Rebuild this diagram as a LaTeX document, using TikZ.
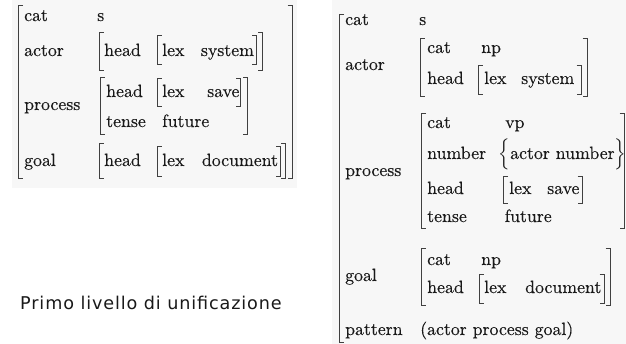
\documentclass[tikz,border=0pt]{standalone}
\usepackage{amsmath}
\usepackage{fontspec}
\newfontfamily\avmfont{lmroman10-regular.otf}[FakeBold=0.3]
\newfontfamily\capfont{DejaVu Sans}[LetterSpace=5]
% brackets: left/right, x, top y, bottom y (y measured downwards)
\newcommand\brL[3]{\draw[brk] (#1+4.5,-#2) -- (#1,-#2) -- (#1,-#3) -- (#1+4.5,-#3);}
\newcommand\brR[3]{\draw[brk] (#1-4.5,-#2) -- (#1,-#2) -- (#1,-#3) -- (#1-4.5,-#3);}
\tikzset{
  avm/.style={font=\avmfont\fontsize{17.8}{20}\selectfont, text=black!90, inner sep=0pt, anchor=base west},
  brk/.style={draw=black!75, line width=0.9pt},
  caption/.style={font=\capfont\fontsize{17.6}{20}\selectfont, text=black!90, inner sep=0pt, anchor=base west},
  tint/.style={fill=black!3, draw=none}
}
\begin{document}
\begin{tikzpicture}[x=1pt,y=1pt]
\useasboundingbox (0,0) rectangle (626,-344);
\fill[white] (0,0) rectangle (626,-344);
\fill[tint] (12,0) rectangle (297,-188);
\fill[tint] (332,0) rectangle (626,-344);

% ---------- first structure ----------
\brL{18.5}{5}{178}
\brR{292}{5}{178}
\node[avm] (a-cat)  at (24,-21)  {cat};
\node[avm] (a-s)    at (97,-21)  {s};
\node[avm] (a-act)  at (24,-56)  {actor};
\brL{99}{32}{70}   \brR{262.5}{32}{70}
\node[avm] (a-acth) at (104,-56) {head};
\brL{157}{35}{64}  \brR{256.5}{35}{64}
\node[avm] (a-actl) at (162,-56) {lex};
\node[avm] (a-actv) at (200.7,-56) {system};
\node[avm] (a-pro)  at (24,-110) {process};
\brL{100}{77}{134} \brR{247.5}{77}{134}
\node[avm] (a-proh) at (106,-97) {head};
\brL{157}{78}{106} \brR{240.5}{78}{106}
\node[avm] (a-prol) at (162,-97) {lex};
\node[avm] (a-prov) at (207,-97) {save};
\node[avm] (a-prot) at (106,-127) {tense};
\node[avm] (a-prof) at (162,-127) {future};
\node[avm] (a-goal) at (24,-166) {goal};
\brL{99}{143}{178} \brR{285.5}{143}{178}
\node[avm] (a-goah) at (104,-166) {head};
\brL{157}{146}{176} \brR{280.5}{146}{176}
\node[avm] (a-goal) at (162,-166) {lex};
\node[avm] (a-goav) at (201.7,-166) {document};

\node[caption] (cap) at (20,-309) {Primo livello di unificazione};

% ---------- second structure ----------
\brL{339.5}{14}{342}
\node[avm] (b-cat)  at (345,-25)  {cat};
\node[avm] (b-s)    at (419,-25)  {s};
\node[avm] (b-act)  at (345,-70)  {actor};
\brL{420}{38}{96}  \brR{587}{38}{96}
\node[avm] (b-actc) at (427,-53)  {cat};
\node[avm] (b-actn) at (481,-53)  {np};
\node[avm] (b-acth) at (427,-84)  {head};
\brL{478}{65}{94}  \brR{581}{65}{94}
\node[avm] (b-actl) at (484,-84)  {lex};
\node[avm] (b-actv) at (521,-84)  {system};
\node[avm] (b-pro)  at (345,-176) {process};
\brL{421.5}{113}{228} \brR{624}{113}{228}
\node[avm] (b-proc) at (427,-128) {cat};
\node[avm] (b-prov) at (505,-128) {vp};
\node[avm] (b-pron) at (427,-159) {number};
\node[avm] (b-proa) at (498.5,-159) {$\Bigl\{$actor number$\Bigr\}$};
\node[avm] (b-proh) at (427,-194) {head};
\brL{503.5}{176}{203} \brR{582}{176}{203}
\node[avm] (b-prol) at (509,-194) {lex};
\node[avm] (b-pros) at (547,-194) {save};
\node[avm] (b-prot) at (427,-222) {tense};
\node[avm] (b-prof) at (504.5,-222) {future};
\node[avm] (b-goal) at (345,-281) {goal};
\brL{421}{248}{305} \brR{610}{248}{305}
\node[avm] (b-goac) at (427,-265) {cat};
\node[avm] (b-goan) at (481,-265) {np};
\node[avm] (b-goah) at (427,-293) {head};
\brL{479}{274}{303} \brR{604}{274}{303}
\node[avm] (b-goal2) at (484,-293) {lex};
\node[avm] (b-goav) at (525,-293) {document};
\node[avm] (b-pat)  at (345,-335) {pattern};
\node[avm] (b-patv) at (420,-335) {(actor process goal)};
\end{tikzpicture}
\end{document}
